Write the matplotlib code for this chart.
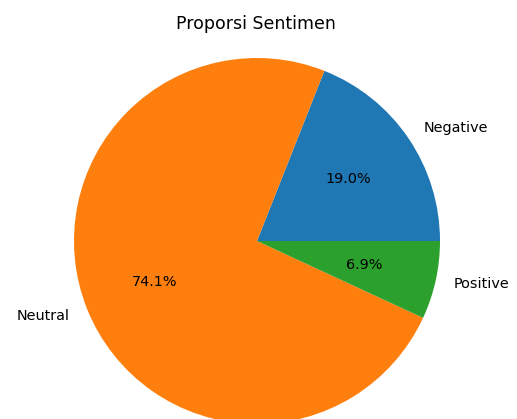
import matplotlib
matplotlib.use("Agg")
import matplotlib.pyplot as plt

labels = ["Negative", "Neutral", "Positive"]
values = [19.0, 74.1, 6.9]

fig = plt.figure(figsize=(5.17, 4.19), dpi=100)
# pie axes: radius ~183 px, centre at (257, 241) px from top-left
W, H = 517, 419
size = 457.5
ax = fig.add_axes([(257 - size / 2) / W, 1 - (241 + size / 2) / H, size / W, size / H])

ax.pie(values, labels=labels, autopct="%1.1f%%",
       textprops={"fontsize": 10.4})
ax.set_aspect("equal")

fig.text(256 / W, 1 - 24 / H, "Proporsi Sentimen", ha="center", va="center", fontsize=12.5)

fig.savefig("out.png", dpi=100)
